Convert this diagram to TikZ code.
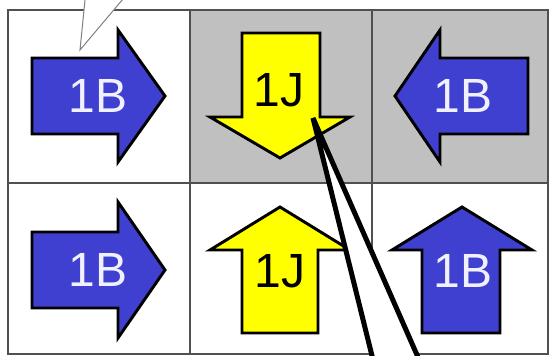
\documentclass[tikz,border=0pt]{standalone}
\usepackage{fontspec}
\setmainfont{Liberation Sans}
\definecolor{cellgrey}{RGB}{192,192,192}
\definecolor{gridline}{RGB}{80,80,80}
\definecolor{arrowblue}{RGB}{64,64,208}
\definecolor{arrowyellow}{RGB}{255,255,0}
\definecolor{labelwhite}{RGB}{240,240,255}
\begin{document}
\begin{tikzpicture}[x=0.75pt,y=0.75pt,yscale=-1,xscale=1,
  gridpen/.style={draw=gridline,line width=1.5pt},
  bluearrow/.style={draw=black,fill=arrowblue,line width=2.2pt,line join=miter},
  yellowarrow/.style={draw=black,fill=arrowyellow,line width=2.2pt,line join=miter},
  bluelabel/.style={text=labelwhite,font=\fontsize{36}{42}\selectfont,inner sep=0.75pt},
  yellowlabel/.style={text=black,font=\fontsize{36}{42}\selectfont,inner sep=0.75pt}]
\useasboundingbox (0,0) rectangle (550,356);
\clip (0,0) rectangle (550,356);

%Shape: Rectangle [grey cells]
\fill[cellgrey] (190,10) rectangle (548,183);
%Shape: Grid
\draw[gridpen] (8,10) rectangle (548,354);
\draw[gridpen] (190,10) -- (190,354);
\draw[gridpen] (372,10) -- (372,354);
\draw[gridpen] (8,183) -- (548,183);

%Shape: Right Arrow [row 1, col 1]
\draw[bluearrow] (32,58) -- (118,58) -- (118,30) -- (165,96) -- (118,162) -- (118,134) -- (32,134) -- cycle;
%Shape: Down Arrow [row 1, col 2]
\draw[yellowarrow] (242,33) -- (320,33) -- (320,117) -- (350,117) -- (280,158) -- (210,117) -- (242,117) -- cycle;
%Shape: Left Arrow [row 1, col 3]
\draw[bluearrow] (528,58) -- (440,58) -- (440,30) -- (395,96) -- (440,162) -- (440,134) -- (528,134) -- cycle;
%Shape: Right Arrow [row 2, col 1]
\draw[bluearrow] (32,232) -- (118,232) -- (118,202) -- (165,270) -- (118,338) -- (118,308) -- (32,308) -- cycle;
%Shape: Up Arrow [row 2, col 2]
\draw[yellowarrow] (242,333) -- (318,333) -- (318,250) -- (350,250) -- (280,207) -- (210,250) -- (242,250) -- cycle;
%Shape: Up Arrow [row 2, col 3]
\draw[bluearrow] (422,333) -- (500,333) -- (500,250) -- (532,250) -- (462,207) -- (392,250) -- (422,250) -- cycle;

% Text Node
\draw (98,96) node [bluelabel] (lbTopLeft) {1B};
% Text Node
\draw (279,90) node [yellowlabel] (ljTopMid) {1J};
% Text Node
\draw (463,96) node [bluelabel] (lbTopRight) {1B};
% Text Node
\draw (98,270) node [bluelabel] (lbBotLeft) {1B};
% Text Node
\draw (280,271) node [yellowlabel] (ljBotMid) {1J};
% Text Node
\draw (463,271) node [bluelabel] (lbBotRight) {1B};

%Shape: Callout tail [small, top left]
\coordinate (tipSmall) at (80,50);
\draw[draw=gray,fill=white,line width=0.75pt] (87,-20) -- (tipSmall) -- (139,-20) -- cycle;
%Shape: Callout tail [large]
\coordinate (tipLarge) at (313,118);
\draw[draw=black,fill=white,line width=3.75pt,line join=miter] (378,380) -- (tipLarge) -- (428,380) -- cycle;
\end{tikzpicture}
\end{document}
